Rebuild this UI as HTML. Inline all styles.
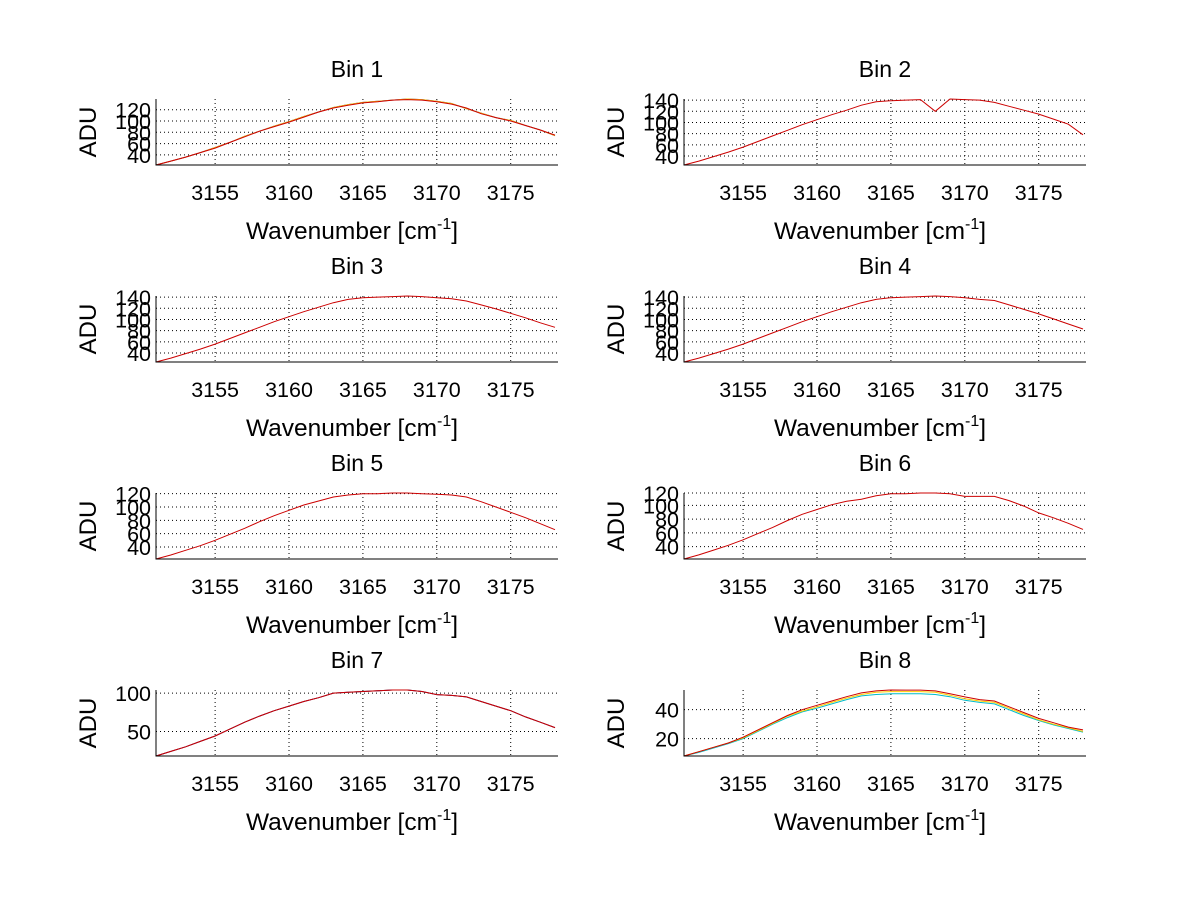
<!DOCTYPE html>
<html><head><meta charset="utf-8">
<style>
html,body{margin:0;padding:0;background:#fff;}
svg{display:block;font-family:"Liberation Sans",Arial,sans-serif;}
</style></head>
<body>
<svg id="fig" width="1200" height="901" viewBox="0 0 1200 901" xmlns="http://www.w3.org/2000/svg"></svg>
<script>
const wavenumbers = [3151,3152,3153,3154,3155,3156,3157,3158,3159,3160,3161,3162,3163,3164,3165,3166,3167,3168,3169,3170,3171,3172,3173,3174,3175,3176,3177,3178];
const xTicks = [3155,3160,3165,3170,3175];
const bin1 = [22,29,36,44,52,62,72,82,90,98,107,116,123,128,132,134,137,138,137,134,130,123,113,106,100,92,84,75];
const bin1b = [22,29,36,44,53,62,73,82,91,99,108,116,124,129,133,135,137,139,138,135,131,122,114,106,101,92,84,74];
const bin2 = [24,31,39,47,56,66,76,86,96,105,114,122,131,137,139,140,141,120,142,141,140,136,129,122,115,106,97,78];
const bin3 = [24,31,39,47,56,66,76,86,96,105,114,122,130,136,139,140,141,142,141,139,137,133,126,119,111,103,94,86];
const bin4 = [24,31,39,47,56,66,76,86,96,105,114,122,130,136,139,140,141,142,141,139,136,134,126,118,110,101,92,83];
const bin5 = [22,28,35,42,50,59,68,78,87,95,103,109,115,118,120,120,121,121,120,119,118,115,108,100,92,84,75,66];
const bin6 = [22,28,35,42,50,59,68,78,87,94,101,106,109,114,117,117,118,118,117,113,113,113,107,99,89,82,74,65];
const bin7 = [18,24,30,37,44,53,62,70,77,83,89,94,100,101,102,103,104,104,102,98,97,95,89,83,77,69,62,55];
const bin8 = [8,11,14,17,21,26,31,36,40,43,46,49,51.6,53,53.6,53.5,53.5,53,51,48.8,47,46,42,38,34,31,28,26];
const bin8c = [8,10.5,13.5,16.5,20,25,30,34.5,38.5,41,44,47,49.5,50.5,51,51,51,50.5,49,46.5,45,44,40,36,32.5,29.5,27,24.5];
const bin8y = [8,11,14,17,20.5,25.5,30.5,35.5,39,42,45,48,50.5,52,52.5,52.5,52.5,52,50,47.5,46,45,41,37,33,30,27.5,25];
const yTicks1 = [40,60,80,100,120];
const yTicks2 = [40,60,80,100,120,140];
const yTicks5 = [40,60,80,100,120];
const yTicks7 = [50,100];
const yTicks8 = [20,40];

const panels = [
  {name:'Bin 1', series:[[bin1b,'#0000ff'],[bin1b,'#ffcc00'],[bin1,'#cc0000']], ticks:yTicks1},
  {name:'Bin 2', series:[[bin2,'#cc0000']], ticks:yTicks2},
  {name:'Bin 3', series:[[bin3,'#cc0000']], ticks:yTicks2},
  {name:'Bin 4', series:[[bin4,'#cc0000']], ticks:yTicks2},
  {name:'Bin 5', series:[[bin5,'#cc0000']], ticks:yTicks5},
  {name:'Bin 6', series:[[bin6,'#cc0000']], ticks:yTicks5},
  {name:'Bin 7', series:[[bin7,'#ffcc00'],[bin7,'#0000cc'],[bin7,'#cc0000']], ticks:yTicks7},
  {name:'Bin 8', series:[[bin8c,'#00bbcc'],[bin8y,'#ffcc00'],[bin8,'#cc0000']], ticks:yTicks8}
];

const NS='http://www.w3.org/2000/svg';
const svg=document.getElementById('fig');
function mk(tag,attrs,parent){const e=document.createElementNS(NS,tag);for(const k in attrs)e.setAttribute(k,attrs[k]);(parent||svg).appendChild(e);return e;}

const W=402,H=66,xMin=3151,xMax=3178.2;
panels.forEach((p,i)=>{
  const col=i%2,row=Math.floor(i/2);
  const L=col?684:156, T=99+197*row;
  let lo=Infinity,hi=-Infinity;
  p.series.forEach(s=>s[0].forEach(v=>{lo=Math.min(lo,v);hi=Math.max(hi,v);}));
  const sx=v=>L+(v-xMin)/(xMax-xMin)*W;
  const sy=v=>T+H-(v-lo)/(hi-lo)*H;
  const g=mk('g',{});
  
  
  xTicks.forEach(t=>{
    const l=mk('line',{x1:sx(t),x2:sx(t),y1:T,y2:T+H,stroke:'#000','stroke-width':1,'stroke-dasharray':'1,3'},g);
    
    
    const tl=mk('text',{x:sx(t),y:T+H+35,'font-size':21.5,'text-anchor':'middle'},g);
    tl.textContent=t;
    
    
  });
  p.ticks.forEach(t=>{
    if(t<lo||t>hi+4)return;
    const yy=Math.max(T,sy(t));
    const l=mk('line',{x1:L,x2:L+W,y1:yy,y2:yy,stroke:'#000','stroke-width':1,'stroke-dasharray':'1,3'},g);
    
    
    const tl=mk('text',{x:L-5,y:yy+8,'font-size':21.5,'text-anchor':'end'},g);
    tl.textContent=t;
    
    
  });
  p.series.forEach(s=>{
    const d=s[0].map((v,k)=>(k?'L':'M')+sx(wavenumbers[k]).toFixed(1)+','+sy(v).toFixed(1)).join('');
    const pa=mk('path',{d:d,fill:'none',stroke:s[1],'stroke-width':1},g);
    
    
  });
  const ax=mk('path',{d:`M${L},${T}V${T+H}H${L+W}`,fill:'none',stroke:'#000','stroke-width':1},g);
  
  
  const ti=mk('text',{x:L+W/2,y:T-22,'font-size':23,'text-anchor':'middle'},g);
  ti.textContent=p.name;
  
  
  const yl=mk('text',{x:0,y:0,'font-size':24,'text-anchor':'middle',transform:`translate(${L-60},${T+H/2}) rotate(-90)`},g);
  yl.textContent='ADU';
  
  
  const xl=mk('text',{x:L+W/2-5,y:T+H+74,'font-size':24.5,'text-anchor':'middle'},g);
  xl.innerHTML='Wavenumber [cm<tspan dy="-10" font-size="16">-1</tspan><tspan dy="10">]</tspan>';
  
  
});
</script>
</body></html>
